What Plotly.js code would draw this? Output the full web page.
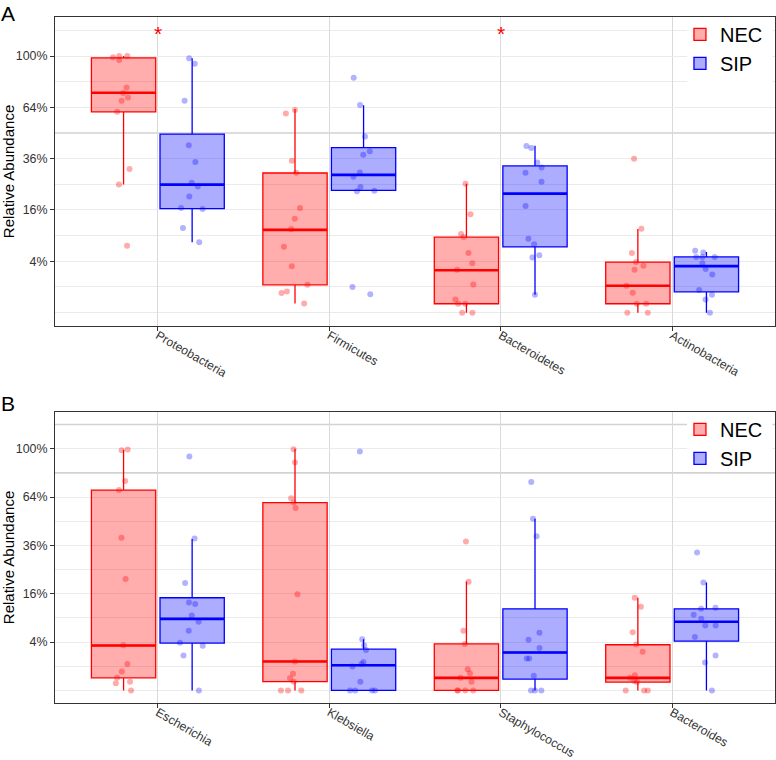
<!DOCTYPE html>
<html><head><meta charset="utf-8">
<script src="https://cdn.plot.ly/plotly-3.0.1.min.js"></script>
<style>html,body{margin:0;padding:0;background:#fff}#chart{width:776px;height:760px}</style>
</head><body><div id="chart"></div>
<script>
// ---------- data (relative abundance, %) ----------
const groups = ['NEC', 'SIP'];
const phyla = ['Proteobacteria', 'Firmicutes', 'Bacteroidetes', 'Actinobacteria'];
const genera = ['Escherichia', 'Klebsiella', 'Staphylococcus', 'Bacteroides'];
const tickPct = [4, 16, 36, 64, 100];
const tickText = ['4%', '16%', '36%', '64%', '100%'];
const signifPhyla = ['Proteobacteria', 'Bacteroidetes'];
const signifLevel = 121;

// Panel A – phyla, NEC samples
const phylaNecPts = [
  [100, 100, 99, 96.9, 77, 73.3, 70.2, 68.2, 61.2, 31.3, 24.9, 6.8],
  [62.4, 60.2, 35, 29.7, 16.6, 13.4, 10.6, 6.6, 3.25, 1.19, 0.67, 0.59, 0.13],
  [25.2, 14.7, 9.4, 8.7, 5.4, 3.7, 2.8, 1.2, 0.26, 0.12, 0.12, 0, 0],
  [36, 10.7, 5.4, 3.9, 3.35, 2.8, 1.1, 0.6, 0.12, 0.12, 0, 0]
];
// Panel A – phyla, SIP samples
const phylaSipPts = [
  [98.2, 94, 68.2, 42.6, 34.4, 25.6, 24.2, 20.5, 16.6, 16.3, 10.9, 7.5],
  [83.8, 65.5, 47.1, 39.6, 37.9, 29.8, 28, 24, 22.6, 22.4, 1.0, 0.51],
  [42.1, 41.1, 34.2, 32, 29.7, 26, 17.3, 8.3, 7.1, 5.0, 4.6, 0.49],
  [5.8, 5.5, 4.7, 4.7, 4.7, 3.7, 2.9, 2.2, 0.77, 0.49, 0.26, 0]
];
// Panel A box statistics
const phylaNecLower = [24.9, 0.13, 0, 0];
const phylaNecQ1 = [61.2, 1.17, 0.12, 0.12];
const phylaNecMed = [73.4, 10.4, 2.72, 1.10];
const phylaNecQ3 = [98.6, 29.6, 8.64, 3.88];
const phylaNecUpper = [100, 62.9, 25.2, 10.6];
const phylaSipLower = [7.5, 22.7, 0.49, 0];
const phylaSipQ1 = [16.4, 22.7, 6.55, 0.66];
const phylaSipMed = [24.9, 28.8, 21.5, 3.28];
const phylaSipQ3 = [48.4, 41.3, 32.7, 4.71];
const phylaSipUpper = [98.2, 65.3, 42.3, 5.57];

// Panel B – genera, NEC samples
const generaNecPts = [
  [99.4, 98.8, 75, 68.8, 39.9, 21.3, 3.5, 1.2, 0.62, 0.27, 0.13, 0.09, 0],
  [99.6, 89, 63.2, 60.4, 57, 15.8, 1.44, 0.48, 0.25, 0.13, 0, 0, 0],
  [38, 20.2, 6.1, 3.7, 0.76, 0.5, 0.27, 0.13, 0, 0, 0, 0],
  [14.7, 12, 5.8, 3.6, 2.56, 0.39, 0.27, 0.15, 0.12, 0, 0, 0]
];
// Panel B – genera, SIP samples
const generaSipPts = [
  [93.7, 39.5, 19.8, 13.2, 12.8, 9.6, 8.1, 6.1, 3.9, 3.4, 2.1, 0],
  [97.8, 4.5, 3.5, 2.8, 1.38, 1.19, 0.98, 0.13, 0, 0, 0, 0],
  [74.4, 50.4, 40.7, 5.7, 4.4, 3.1, 1.75, 1.75, 0.37, 0, 0, 0],
  [32.6, 19.9, 11.7, 11.4, 9.8, 8.8, 7.2, 7.2, 4.9, 2.1, 1.34, 0]
];
// Panel B box statistics
const generaNecLower = [0, 0, 0, 0];
const generaNecQ1 = [0.27, 0.13, 0, 0.12];
const generaNecMed = [3.46, 1.44, 0.27, 0.27];
const generaNecQ3 = [68.7, 60.4, 3.72, 3.57];
const generaNecUpper = [99.2, 100, 20.3, 14.7];
const generaSipLower = [0, 0, 0, 0];
const generaSipQ1 = [3.84, 0, 0.22, 4.16];
const generaSipMed = [8.76, 1.08, 2.46, 8.07];
const generaSipQ3 = [14.7, 2.92, 11.4, 11.4];
const generaSipUpper = [39.3, 4.49, 50.4, 19.9];

// ---------- styling ----------
const FONT = 'Liberation Sans, Arial, Helvetica, sans-serif';
const style = {
  NEC: {line: '#ff0000', fill: 'rgba(255,0,0,0.32)', pt: 'rgba(255,0,0,0.33)', off: -0.2},
  SIP: {line: '#0000ff', fill: 'rgba(0,0,255,0.32)', pt: 'rgba(0,0,255,0.30)', off: 0.2}
};
const BOXW = 0.375;
const sq = v => Math.sqrt(v);

function panelTraces(cats, grp, pts, lower, q1, med, q3, upper, xa, ya, legendId) {
  const s = style[grp];
  const pos = cats.map((c, i) => i + 1 + s.off);
  const out = [];
  out.push({
    type: 'box', orientation: 'v', name: grp, x: pos,
    q1: q1.map(sq), median: med.map(sq), q3: q3.map(sq),
    lowerfence: lower.map(sq), upperfence: upper.map(sq),
    width: BOXW, whiskerwidth: 0, boxpoints: false,
    line: {color: s.line, width: 1.3}, fillcolor: s.fill,
    xaxis: xa, yaxis: ya, legend: legendId, showlegend: true, hoverinfo: 'skip'
  });
  out.push({
    type: 'box', orientation: 'v', name: grp, x: pos,
    q1: med.map(sq), median: med.map(sq), q3: med.map(sq),
    lowerfence: med.map(sq), upperfence: med.map(sq),
    width: BOXW, whiskerwidth: 0, boxpoints: false,
    line: {color: s.line, width: 2.6}, fillcolor: 'rgba(0,0,0,0)',
    xaxis: xa, yaxis: ya, showlegend: false, hoverinfo: 'skip'
  });
  const xs = [], ys = [];
  pts.forEach((arr, i) => arr.forEach(v => { xs.push(pos[i]); ys.push(sq(v)); }));
  out.push({
    type: 'box', orientation: 'v', name: grp, x: xs, y: ys,
    width: BOXW, boxpoints: 'all', jitter: 0.45, pointpos: 0, whiskerwidth: 0,
    line: {color: 'rgba(0,0,0,0)', width: 0}, fillcolor: 'rgba(0,0,0,0)',
    marker: {color: s.pt, size: 6, line: {width: 0}},
    xaxis: xa, yaxis: ya, showlegend: false, hoverinfo: 'skip'
  });
  return out;
}

const data = [].concat(
  panelTraces(phyla, 'NEC', phylaNecPts, phylaNecLower, phylaNecQ1, phylaNecMed, phylaNecQ3, phylaNecUpper, 'x', 'y', 'legend'),
  panelTraces(phyla, 'SIP', phylaSipPts, phylaSipLower, phylaSipQ1, phylaSipMed, phylaSipQ3, phylaSipUpper, 'x', 'y', 'legend'),
  panelTraces(genera, 'NEC', generaNecPts, generaNecLower, generaNecQ1, generaNecMed, generaNecQ3, generaNecUpper, 'x2', 'y2', 'legend2'),
  panelTraces(genera, 'SIP', generaSipPts, generaSipLower, generaSipQ1, generaSipMed, generaSipQ3, generaSipUpper, 'x2', 'y2', 'legend2')
);

function xAxis(cats, anchor) {
  return {
    anchor: anchor, range: [0.4, 4.6], tickmode: 'array',
    tickvals: cats.map((c, i) => i + 1), ticktext: cats, tickangle: 30,
    ticklabelstandoff: -7,
    showgrid: true, gridcolor: '#d9d9d9', gridwidth: 1, zeroline: false,
    showline: true, mirror: true, linecolor: '#333333', linewidth: 1,
    ticks: 'outside', ticklen: 4, tickcolor: '#333333', tickwidth: 1,
    tickfont: {family: FONT, size: 12.2, color: '#333333'}
  };
}
function yAxis(domain, anchor, minorVals) {
  return {
    domain: domain, anchor: anchor, range: [-0.52, 11.52], tickmode: 'array',
    tickvals: tickPct.map(sq), ticktext: tickText,
    showgrid: true, gridcolor: '#ebebeb', gridwidth: 1, zeroline: false,
    minor: {tickmode: 'array', tickvals: minorVals, showgrid: true, gridcolor: '#ebebeb', gridwidth: 1, ticks: ''},
    showline: true, mirror: true, linecolor: '#333333', linewidth: 1,
    ticks: 'outside', ticklen: 4, tickcolor: '#333333', tickwidth: 1,
    tickfont: {family: FONT, size: 12.4, color: '#333333'},
    title: {text: 'Relative Abundance', font: {family: FONT, size: 15, color: '#000'}, standoff: 8}
  };
}

const legendBase = {
  xanchor: 'left', yanchor: 'top', bgcolor: 'rgba(0,0,0,0)', borderwidth: 0,
  font: {family: FONT, size: 20, color: '#000'}, tracegroupgap: 0
};

const annotations = [
  {xref: 'paper', yref: 'paper', x: -0.078, y: 1.0248, xanchor: 'left', yanchor: 'top', text: 'A', showarrow: false, font: {family: FONT, size: 21, color: '#000'}},
  {xref: 'paper', yref: 'paper', x: -0.078, y: 0.4564, xanchor: 'left', yanchor: 'top', text: 'B', showarrow: false, font: {family: FONT, size: 21, color: '#000'}}
].concat(signifPhyla.map(c => ({
  xref: 'x', yref: 'y', x: phyla.indexOf(c) + 1, y: sq(signifLevel), text: '*', showarrow: false,
  yshift: -3, font: {family: FONT, size: 21, color: '#ff0000'}
})));

const shapes = [
  {type: 'line', xref: 'paper', yref: 'y', x0: 0, x1: 1, y0: 7, y1: 7, layer: 'below', line: {color: '#d2d2d2', width: 1.6}},
  {type: 'line', xref: 'paper', yref: 'y2', x0: 0, x1: 1, y0: 9, y1: 9, layer: 'below', line: {color: '#d2d2d2', width: 1.6}},
  {type: 'line', xref: 'paper', yref: 'y2', x0: 0, x1: 1, y0: 11, y1: 11, layer: 'below', line: {color: '#d2d2d2', width: 1.6}},
  // legend key backgrounds (white, hiding the grid behind the legend)
  {type: 'rect', xref: 'x', yref: 'y', x0: 4.087, x1: 4.585, y0: 8.68, y1: 11.45, layer: 'above', line: {width: 0}, fillcolor: '#ffffff'},
  {type: 'rect', xref: 'x2', yref: 'y2', x0: 4.087, x1: 4.585, y0: 9.27, y1: 11.45, layer: 'above', line: {width: 0}, fillcolor: '#ffffff'}
];

const layout = {
  width: 776, height: 760,
  margin: {l: 55, r: 1, t: 17, b: 57, pad: 0},
  paper_bgcolor: '#ffffff', plot_bgcolor: '#ffffff',
  font: {family: FONT, color: '#000'},
  boxmode: 'overlay',
  xaxis: xAxis(phyla, 'y'),
  yaxis: yAxis([0.5496, 1], 'x', [0, 1, 3, 5, 9, 11]),
  xaxis2: xAxis(genera, 'y2'),
  yaxis2: yAxis([0, 0.4242], 'x2', [0, 1, 3, 5, 7]),
  legend: Object.assign({x: 0.868, y: 1.003}, legendBase),
  legend2: Object.assign({x: 0.868, y: 0.4272}, legendBase),
  annotations: annotations,
  shapes: shapes,
  hovermode: false
};

Plotly.newPlot('chart', data, layout, {staticPlot: true, displayModeBar: false});
</script></body></html>
